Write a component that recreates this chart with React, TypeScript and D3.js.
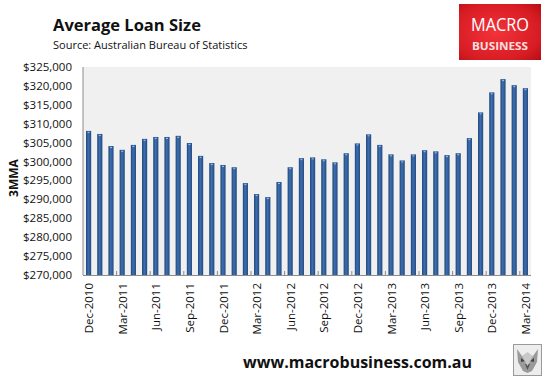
import React from "react";
import * as d3 from "d3";

const months: string[] = [
  "Dec-2010", "Jan-2011", "Feb-2011", "Mar-2011", "Apr-2011", "May-2011", "Jun-2011", "Jul-2011",
  "Aug-2011", "Sep-2011", "Oct-2011", "Nov-2011", "Dec-2011", "Jan-2012", "Feb-2012", "Mar-2012",
  "Apr-2012", "May-2012", "Jun-2012", "Jul-2012", "Aug-2012", "Sep-2012", "Oct-2012", "Nov-2012",
  "Dec-2012", "Jan-2013", "Feb-2013", "Mar-2013", "Apr-2013", "May-2013", "Jun-2013", "Jul-2013",
  "Aug-2013", "Sep-2013", "Oct-2013", "Nov-2013", "Dec-2013", "Jan-2014", "Feb-2014", "Mar-2014",
];

const loanSize: number[] = [
  308100, 307300, 304100, 303100, 304400, 306000, 306500, 306500,
  306800, 304900, 301500, 299600, 299100, 298500, 294300, 291400,
  290600, 294600, 298500, 300900, 301100, 300600, 299800, 302200,
  304800, 307200, 304400, 301900, 300300, 301900, 303000, 302700,
  301700, 302200, 306200, 313000, 318300, 321800, 320200, 319400,
];

const yTicks: number[] = [270000, 275000, 280000, 285000, 290000, 295000, 300000, 305000, 310000, 315000, 320000, 325000];

const title = "Average Loan Size";
const subtitle = "Source: Australian Bureau of Statistics";
const yAxisTitle = "3MMA";
const url = "www.macrobusiness.com.au";

export default function App() {
  const W = 549, H = 381;
  const left = 83, right = 531, top = 67, bottom = 275;

  const x = d3.scaleBand<string>().domain(months).range([left, right]).paddingInner(0.54).paddingOuter(0.27);
  const y = d3.scaleLinear().domain([270000, 325000]).range([bottom, top]);
  const fmt = (v: number) => "$" + d3.format(",")(v);
  const step = (right - left) / months.length;
  const labelIdx = months.map((_, i) => i).filter((i) => i % 3 === 0);
  const tickIdx = d3.range(3, months.length + 1, 3);
  const font = "'Open Sans', 'Liberation Sans', sans-serif";

  return (
    <svg width={W} height={H} style={{ position: "absolute", left: 0, top: 0, background: "#fff" }}>
      <defs>
        <linearGradient id="barGrad" x1="0" x2="1" y1="0" y2="0">
          <stop offset="0" stopColor="#1f4679" />
          <stop offset="0.45" stopColor="#3e6fb0" />
          <stop offset="1" stopColor="#22497f" />
        </linearGradient>
        <radialGradient id="logoGrad" cx="0.45" cy="0.5" r="0.75">
          <stop offset="0" stopColor="#f2333a" />
          <stop offset="0.7" stopColor="#d81c24" />
          <stop offset="1" stopColor="#b30e15" />
        </radialGradient>
      </defs>

      {/* Title */}
      <text x={53} y={31} fontFamily={font} fontWeight="bold" fontSize={16.5} fill="#111">{title}</text>
      <text x={53} y={49} fontFamily={font} fontSize={11} fill="#111">{subtitle}</text>

      {/* Logo */}
      <rect x={459} y={4} width={82} height={56} fill="url(#logoGrad)" />
      <text x={500} y={31} textAnchor="middle" fontFamily={font} fontSize={17.5} fill="#fff" textLength={58} lengthAdjust="spacingAndGlyphs">MACRO</text>
      <text x={500} y={50} textAnchor="middle" fontFamily={font} fontWeight="bold" fontSize={10} fill="#fbe0e0" textLength={56} lengthAdjust="spacingAndGlyphs">BUSINESS</text>

      {/* Plot area */}
      <rect x={left} y={top} width={right - left} height={bottom - top} fill="#f0f0f0" />

      {/* Bars */}
      {loanSize.map((v, i) => (
        <g key={months[i]}>
          <rect x={x(months[i])} y={y(v)} width={x.bandwidth()} height={bottom - y(v)} fill="url(#barGrad)" />
          <rect x={(x(months[i]) as number) + x.bandwidth() / 2 - 1} y={y(v) + 1} width={2} height={1} fill="#9fbde6" />
        </g>
      ))}

      {/* Axes */}
      <line x1={left} x2={left} y1={top} y2={bottom} stroke="#8c8c8c" strokeWidth={1} />
      <line x1={left} x2={right} y1={bottom + 0.5} y2={bottom + 0.5} stroke="#8c8c8c" strokeWidth={1} />
      {tickIdx.map((k) => (
        <line key={k} x1={left + k * step} x2={left + k * step} y1={bottom} y2={bottom - 4} stroke="#8c8c8c" strokeWidth={1} />
      ))}

      {/* Y labels */}
      {yTicks.map((t) => (
        <text key={t} x={72} y={y(t)} dy="0.35em" textAnchor="end" fontFamily={font} fontSize={11.5} fill="#111">{fmt(t)}</text>
      ))}
      <text transform={`translate(13,178) rotate(-90)`} textAnchor="middle" dominantBaseline="central" fontFamily={font} fontWeight="bold" fontSize={12} fill="#111">{yAxisTitle}</text>

      {/* X labels */}
      {labelIdx.map((i) => (
        <text key={i} transform={`translate(${(x(months[i]) as number) + x.bandwidth() / 2},283) rotate(-90)`} textAnchor="end" dominantBaseline="central" fontFamily={font} fontSize={11.5} fill="#111">{months[i]}</text>
      ))}

      {/* URL */}
      <text x={472} y={368} textAnchor="end" fontFamily={font} fontWeight="bold" fontSize={16} fill="#111">{url}</text>

      {/* Wolf icon */}
      <g>
        <rect x={513.5} y={344.5} width={28} height={31} fill="#ededed" stroke="#9a9a9a" />
        <path d="M517,349 L522,356 L533,356 L538,349 L537,362 L532,371 L527.5,373 L523,371 L518,362 Z" fill="#9a9a9a" />
        <path d="M521,358 L525,361 L521,362 Z M534,358 L530,361 L534,362 Z" fill="#444" />
        <path d="M525,364 L530,364 L527.5,370 Z" fill="#555" />
        <path d="M522,356 L527.5,352 L533,356 L527.5,366 Z" fill="#c8c8c8" />
      </g>
    </svg>
  );
}
